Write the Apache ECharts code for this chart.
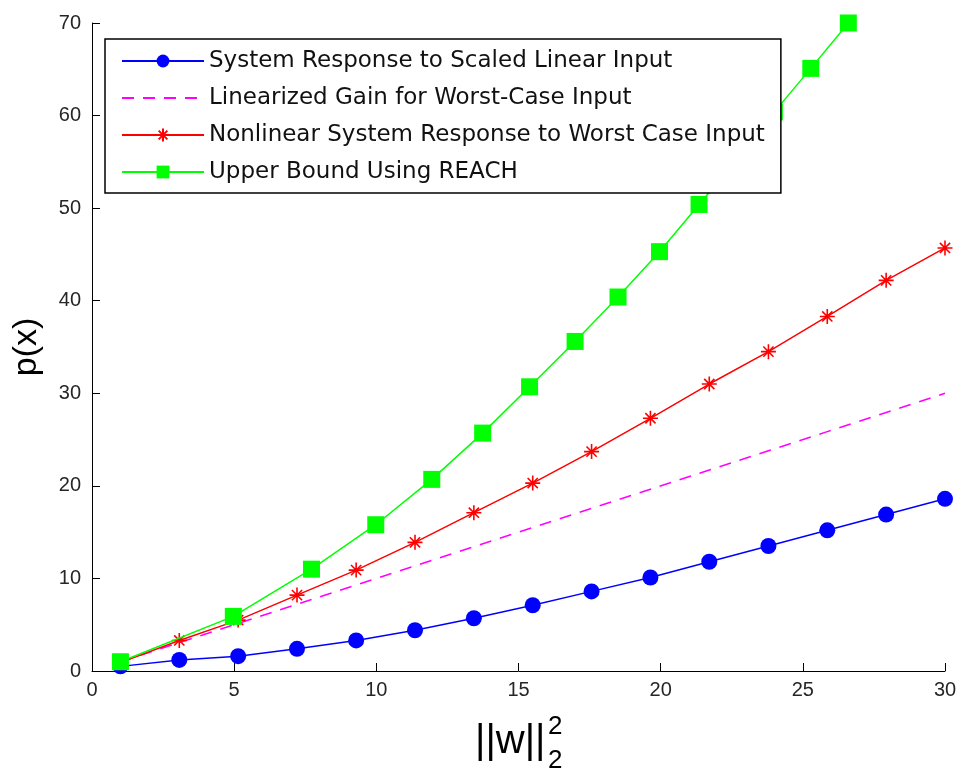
<!DOCTYPE html>
<html>
<head>
<meta charset="utf-8">
<script src="https://cdn.jsdelivr.net/npm/echarts@6/dist/echarts.min.js"></script>
<style>
  html, body { margin: 0; padding: 0; background: #fff; }
  #chart { width: 961px; height: 773px; }
</style>
</head>
<body>
<div id="chart"></div>
<script>
// sample points along ||w||^2 (shared by the first three curves)
var xVals = [1, 3.07, 5.14, 7.21, 9.29, 11.36, 13.43, 15.5, 17.57, 19.64, 21.71, 23.79, 25.86, 27.93, 30];
var linearResp = [0.5, 1.2, 1.6, 2.4, 3.3, 4.4, 5.7, 7.1, 8.6, 10.1, 11.8, 13.5, 15.2, 16.9, 18.6];
var linearizedGain = [1, 3.07, 5.14, 7.21, 9.29, 11.36, 13.43, 15.5, 17.57, 19.64, 21.71, 23.79, 25.86, 27.93, 30];
var nonlinearResp = [0.9, 3.3, 5.5, 8.2, 10.9, 13.9, 17.1, 20.3, 23.7, 27.3, 31.0, 34.5, 38.3, 42.2, 45.7];

// REACH bound has its own x samples
var reachX = [1, 4.97, 7.72, 9.98, 11.95, 13.74, 15.39, 16.99, 18.5, 19.96, 21.35, 22.7, 24.0, 25.28, 26.6];
var reachY = [1.0, 5.9, 11.0, 15.8, 20.7, 25.7, 30.7, 35.6, 40.4, 45.3, 50.4, 55.3, 60.4, 65.1, 70.0];

var seriesNames = [
  'System Response to Scaled Linear Input',
  'Linearized Gain for Worst-Case Input',
  'Nonlinear System Response to Worst Case Input',
  'Upper Bound Using REACH'
];

function pairs(xs, ys) {
  return xs.map(function (x, i) { return [x, ys[i]]; });
}

var asterisk = 'path://M0,5L10,5M5,0L5,10M1.6,1.6L8.4,8.4M8.4,1.6L1.6,8.4';
var textColor = '#262626';

var chart = echarts.init(document.getElementById('chart'), null, { renderer: 'canvas' });

var option = {
  backgroundColor: '#fff',
  animation: false,
  grid: { left: 92, right: 16, top: 23, bottom: 102 },
  xAxis: {
    type: 'value',
    min: 0,
    max: 30,
    interval: 5,
    axisLine: { show: true, onZero: false, lineStyle: { color: '#000', width: 1 } },
    axisTick: { show: true, inside: true, length: 8, lineStyle: { color: '#000' } },
    axisLabel: { color: textColor, fontSize: 20, fontFamily: 'Liberation Sans', margin: 9 },
    splitLine: { show: false }
  },
  yAxis: {
    type: 'value',
    min: 0,
    max: 70,
    interval: 10,
    name: 'p(x)',
    nameLocation: 'middle',
    nameGap: 48,
    nameRotate: 90,
    nameTextStyle: { color: '#000', fontSize: 34, fontFamily: 'Liberation Sans' },
    axisLine: { show: true, onZero: false, lineStyle: { color: '#000', width: 1 } },
    axisTick: { show: true, inside: true, length: 8, lineStyle: { color: '#000' } },
    axisLabel: { color: textColor, fontSize: 20, fontFamily: 'Liberation Sans', margin: 11 },
    splitLine: { show: false }
  },
  legend: {
    orient: 'vertical',
    left: 105,
    top: 39,
    z: 10,
    padding: [10, 16, 9, 16],
    itemWidth: 82,
    itemHeight: 16,
    itemGap: 13,
    backgroundColor: '#fff',
    borderColor: '#000',
    borderWidth: 1.5,
    borderRadius: 0,
    selectedMode: false,
    data: [
      seriesNames[0],
      { name: seriesNames[1], itemStyle: { opacity: 0 } },
      seriesNames[2],
      seriesNames[3]
    ],
    textStyle: { color: '#111', fontSize: 23, fontFamily: 'DejaVu Sans', lineHeight: 24 }
  },
  graphic: [
    {
      type: 'text', left: 475, top: 722, z: 10,
      style: { text: '||w||', fill: '#000', font: '40px "Liberation Sans"' }
    },
    {
      type: 'text', left: 548, top: 714, z: 10,
      style: { text: '2', fill: '#000', font: '26px "Liberation Sans"' }
    },
    {
      type: 'text', left: 548, top: 748, z: 10,
      style: { text: '2', fill: '#000', font: '26px "Liberation Sans"' }
    }
  ],
  series: [
    {
      name: seriesNames[0],
      type: 'line',
      data: pairs(xVals, linearResp),
      symbol: 'circle',
      symbolSize: 16,
      lineStyle: { color: '#0000ff', width: 1.5 },
      itemStyle: { color: '#0000ff' },
      z: 2
    },
    {
      name: seriesNames[1],
      type: 'line',
      data: pairs(xVals, linearizedGain),
      symbol: 'none',
      lineStyle: { color: '#ff00ff', width: 1.5, type: [12, 9] },
      itemStyle: { color: '#ff00ff' },
      z: 3
    },
    {
      name: seriesNames[2],
      type: 'line',
      data: pairs(xVals, nonlinearResp),
      symbol: asterisk,
      symbolSize: 15,
      lineStyle: { color: '#ff0000', width: 1.5 },
      itemStyle: { color: '#ff0000', borderColor: '#ff0000', borderWidth: 1.6 },
      z: 4
    },
    {
      name: seriesNames[3],
      type: 'line',
      data: pairs(reachX, reachY),
      symbol: 'rect',
      symbolSize: 17,
      lineStyle: { color: '#00ff00', width: 1.5 },
      itemStyle: { color: '#00ff00' },
      z: 5
    }
  ]
};

chart.setOption(option);
</script>
</body>
</html>
